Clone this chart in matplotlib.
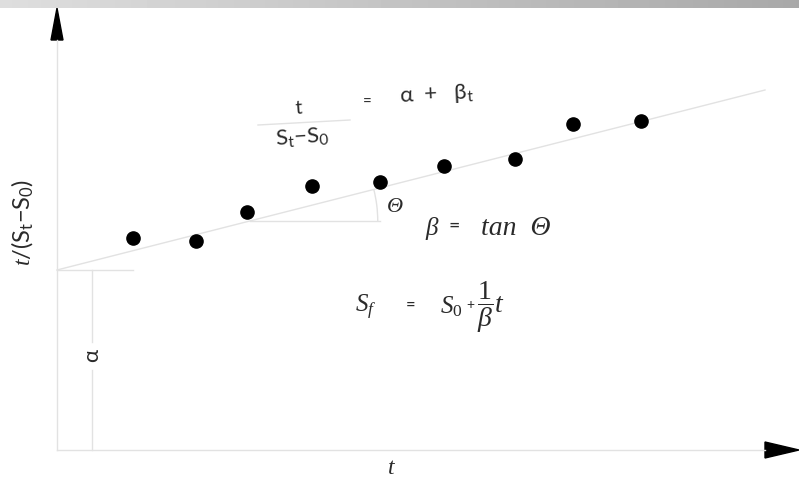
import numpy as np
import matplotlib.pyplot as plt
from matplotlib.patches import Polygon, Arc

plt.rcParams['mathtext.fontset'] = 'custom'
plt.rcParams['mathtext.rm'] = 'Liberation Serif'
plt.rcParams['mathtext.it'] = 'Liberation Serif:italic'

# schematic data (origin at the axis corner)
t_vals = [76, 139, 190, 255, 323, 387, 458, 516, 584]
y_vals = [212, 209, 238, 264, 268, 284, 291, 326, 329]
alpha = 180.0
beta = 180.0 / 708.0

grey = '#e2e2e2'
txt = '#2a2a2a'
sans = dict(family='Lato', fontweight='normal', color=txt)
ital = dict(family='Liberation Serif', style='italic', color=txt)

fig = plt.figure(figsize=(7.99, 4.79), dpi=100)
ax = fig.add_axes([0, 0, 1, 1])
ax.set_xlim(-57, 742)
ax.set_ylim(-29, 450)
ax.axis('off')

# top gradient bar
bar = fig.add_axes([0, 1 - 8 / 479, 1, 8 / 479])
bar.imshow(np.linspace(0.87, 0.66, 256)[None, :], cmap='gray', vmin=0, vmax=1,
           aspect='auto', extent=[0, 1, 0, 1])
bar.axis('off')

# axes lines + arrow heads
ax.plot([0, 0], [0, 410], color=grey, lw=1)
ax.plot([0, 708], [0, 0], color=grey, lw=1)
ax.add_patch(Polygon([[-6, 410], [6, 410], [0, 442]], closed=True, color='black'))
ax.add_patch(Polygon([[708, 8], [708, -8], [742, 0]], closed=True, color='black'))

# fitted line
xl = np.array([0, 708])
ax.plot(xl, alpha + beta * xl, color=grey, lw=1)

# intercept guide
ax.plot([0, 76], [alpha, alpha], color=grey, lw=1)
ax.plot([35, 35], [alpha, 108], color=grey, lw=1)
ax.plot([35, 35], [80, 0], color=grey, lw=1)
ax.text(35, 95, 'α', rotation=90, ha='center', va='center', fontsize=16, **sans)

# angle
x0 = (229 - alpha) / beta
ax.plot([x0, 323], [229, 229], color=grey, lw=1)
ax.add_patch(Arc((x0, 229), 2 * 128, 2 * 128, theta1=0, theta2=np.degrees(np.arctan(beta)),
                 color=grey, lw=1))
ax.text(338, 243, 'Θ', fontsize=16, ha='center', va='center', **ital)

# points
ax.plot(t_vals, y_vals, 'o', color='black', ms=9.5)

# equations
ax.text(242, 342, 't', fontsize=14, ha='center', va='center', rotation=4, **sans)
ax.plot([201, 293], [325, 330], color=grey, lw=1)
ax.text(245, 313, 'S$_\\mathregular{t}$−S$_\\mathregular{0}$', fontsize=16,
        ha='center', va='center', rotation=4, **sans)
ax.text(310, 347, '=', fontsize=11, ha='center', va='center', **sans)
ax.text(380, 355, 'α  +   β$_\\mathregular{t}$', fontsize=16,
        ha='center', va='center', rotation=3, **sans)

ax.text(368, 222, 'β', fontsize=18, va='center', **ital)
ax.text(392, 224, '=', fontsize=14, va='center', **sans)
ax.text(424, 222, 'tan  Θ', fontsize=20, va='center', **ital)
ax.text(298, 143, r'$S_f$', fontsize=18, color=txt, va='center')
ax.text(349, 145, '=', fontsize=12, va='center', **sans)
ax.text(383, 143, r'$S_0$', fontsize=18, color=txt, va='center')
ax.text(409, 145, '+', fontsize=10, va='center', **sans)
ax.text(420, 143, r'$\dfrac{1}{\beta}t$', fontsize=20, color=txt, va='center')

ax.text(-35, 228, r'$t$/(S$_\mathregular{t}$−S$_\mathregular{0}$)', rotation=90, fontsize=17,
        ha='center', va='center', **sans)
ax.text(335, -17, r'$t$', fontsize=17, color=txt, ha='center', va='center')

fig.savefig('out.png', dpi=100)
